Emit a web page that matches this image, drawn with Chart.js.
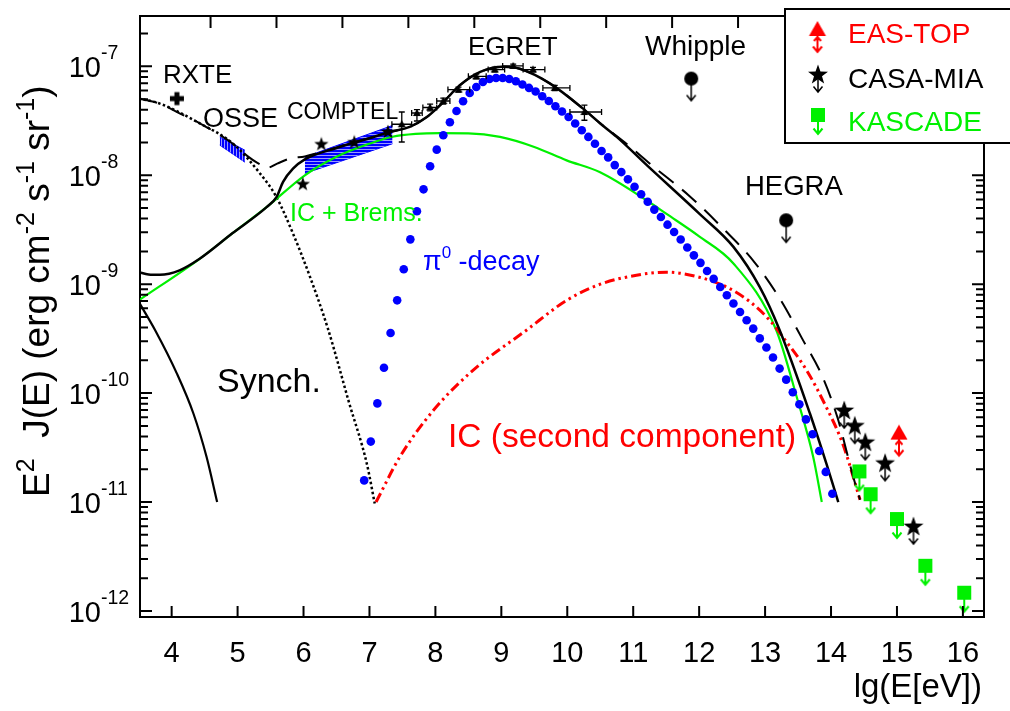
<!DOCTYPE html>
<html>
<head>
    <title>Diffuse gamma-ray spectrum</title>
    <script src="https://cdn.jsdelivr.net/npm/chart.js"></script>
    <style>
        body { margin: 0; background: #fff; }
    </style>
</head>
<body>
    <canvas id="spec" width="1010" height="711"></canvas>
    <script>
        // axis ticks (lg E in eV)
        const xTicks = [4, 5, 6, 7, 8, 9, 10, 11, 12, 13, 14, 15, 16];
        const topTicks = [4.59, 5.59, 6.59, 7.59, 8.59, 9.59, 10.59, 11.59, 12.59, 13.59, 14.59, 15.59];
        const yDecades = [-12, -11, -10, -9, -8, -7];

        // model curves
        const totalX = [3.5, 3.65, 3.82, 4.12, 4.43, 4.92, 5.44, 5.59, 5.69, 5.84, 6.02, 6.5, 7.0, 7.31, 7.61, 7.87, 8.12, 8.37, 8.68, 9.03, 9.28, 9.74, 10.24, 10.5, 10.75, 11.23, 12.01, 12.52, 12.92, 13.22, 13.68, 13.93, 14.11];
        const totalY = [1.29e-9, 1.23e-9, 1.22e-9, 1.34e-9, 1.72e-9, 2.93e-9, 5.1e-9, 6.3e-9, 8.7e-9, 1.15e-8, 1.4e-8, 1.78e-8, 2.19e-8, 2.5e-8, 2.78e-8, 3.43e-8, 4.7e-8, 6.7e-8, 8.9e-8, 9.9e-8, 9.5e-8, 6.95e-8, 4.09e-8, 2.99e-8, 2.25e-8, 1.2e-8, 4.4e-9, 2.2e-9, 9.4e-10, 3.8e-10, 6.5e-11, 2.25e-11, 1e-11];

        const altX = [3.5, 3.82, 4.12, 4.43, 4.93, 5.15, 5.3, 5.45, 5.6, 5.8, 6.02, 6.5, 7.0, 7.31, 7.61, 7.87, 8.12, 8.37, 8.68, 9.03, 9.28, 9.74, 10.24, 10.5, 10.87, 11.3, 11.86, 12.36, 12.84, 13.24, 13.56, 13.86, 14.1, 14.33, 14.44];
        const altY = [5.08e-8, 4.55e-8, 3.7e-8, 2.99e-8, 1.95e-8, 1.5e-8, 1.3e-8, 1.17e-8, 1.28e-8, 1.43e-8, 1.49e-8, 1.8e-8, 2.2e-8, 2.5e-8, 2.78e-8, 3.43e-8, 4.7e-8, 6.7e-8, 8.9e-8, 9.9e-8, 9.5e-8, 6.95e-8, 4.09e-8, 3.0e-8, 2.01e-8, 1.21e-8, 6.4e-9, 3.26e-9, 1.59e-9, 7.1e-10, 3.18e-10, 1.46e-10, 5.9e-11, 1.76e-11, 1.05e-11];

        const synchX = [3.5, 3.82, 4.43, 4.93, 5.34, 5.59, 5.84, 6.1, 6.37, 6.69, 6.96, 7.08];
        const synchY = [5.08e-8, 4.55e-8, 2.99e-8, 1.95e-8, 1.04e-8, 6.3e-9, 2.92e-9, 1.16e-9, 3.9e-10, 8.2e-11, 2.25e-11, 9.7e-12];

        const synch2X = [3.5, 3.75, 4.08, 4.33, 4.53, 4.69];
        const synch2Y = [6.9e-10, 3.78e-10, 1.51e-10, 6.5e-11, 2.59e-11, 1e-11];

        const icBremsX = [3.5, 4.43, 4.92, 5.44, 6.02, 6.5, 7.0, 7.35, 7.7, 8.07, 8.5, 8.98, 9.5, 9.99, 10.49, 11.2, 11.5, 12.0, 12.52, 13.17, 13.48, 13.73, 13.86];
        const icBremsY = [7.1e-10, 1.72e-9, 2.93e-9, 5.1e-9, 1.0e-8, 1.48e-8, 1.95e-8, 2.26e-8, 2.4e-8, 2.44e-8, 2.43e-8, 2.25e-8, 1.82e-8, 1.37e-8, 1.07e-8, 5.9e-9, 4.44e-9, 2.75e-9, 1.55e-9, 3.78e-10, 9.2e-11, 2.59e-11, 1e-11];

        const ic2X = [7.1, 7.46, 7.97, 8.57, 9.38, 9.99, 10.5, 11.05, 11.5, 12.0, 12.42, 12.77, 13.07, 13.27, 13.63, 13.93, 14.18, 14.44];
        const ic2Y = [1e-11, 2.59e-11, 6.95e-11, 1.62e-10, 3.78e-10, 7.1e-10, 1.0e-9, 1.21e-9, 1.29e-9, 1.16e-9, 9.4e-10, 6.9e-10, 4.67e-10, 3.27e-10, 1.62e-10, 7.4e-11, 3.4e-11, 1.05e-11];

        const pionX = [6.92, 7.02, 7.12, 7.22, 7.32, 7.42, 7.52, 7.62, 7.72, 7.82,
            7.92, 8.02, 8.12, 8.22, 8.32, 8.42, 8.52, 8.62, 8.72, 8.82,
            8.92, 9.02, 9.12, 9.22, 9.32, 9.42, 9.52, 9.62, 9.72, 9.82,
            9.92, 10.02, 10.12, 10.22, 10.32, 10.42, 10.52, 10.62, 10.72, 10.82,
            10.92, 11.02, 11.12, 11.22, 11.32, 11.42, 11.52, 11.62, 11.72, 11.82,
            11.92, 12.02, 12.12, 12.22, 12.32, 12.42, 12.52, 12.62, 12.72, 12.82,
            12.92, 13.02, 13.12, 13.22, 13.32, 13.42, 13.52, 13.62, 13.72, 13.82,
            13.92, 14.02];
        const pionY = [1.58e-11, 3.59e-11, 8.05e-11, 1.71e-10, 3.56e-10, 7.11e-10, 1.37e-9, 2.58e-9, 4.67e-9, 7.43e-9,
            1.21e-8, 1.72e-8, 2.33e-8, 3.07e-8, 3.89e-8, 4.79e-8, 5.70e-8, 6.47e-8, 7.19e-8, 7.66e-8,
            7.82e-8, 7.82e-8, 7.66e-8, 7.30e-8, 6.81e-8, 6.34e-8, 5.87e-8, 5.31e-8, 4.81e-8, 4.30e-8,
            3.85e-8, 3.43e-8, 2.99e-8, 2.59e-8, 2.25e-8, 1.95e-8, 1.67e-8, 1.46e-8, 1.24e-8, 1.07e-8,
            9.18e-9, 7.84e-9, 6.70e-9, 5.71e-9, 4.84e-9, 4.14e-9, 3.52e-9, 3.01e-9, 2.57e-9, 2.17e-9,
            1.84e-9, 1.57e-9, 1.32e-9, 1.12e-9, 9.42e-10, 7.91e-10, 6.64e-10, 5.56e-10, 4.67e-10, 3.91e-10,
            3.18e-10, 2.62e-10, 2.12e-10, 1.68e-10, 1.33e-10, 1.02e-10, 7.89e-11, 5.74e-11, 4.19e-11, 2.94e-11,
            1.89e-11, 1.19e-11];

        // measurements
        const rxteX = [4.08];
        const rxteY = [5.06e-8];
        const osseX = [4.73, 5.11];
        const osseHi = [2.25e-8, 1.7e-8];
        const osseLo = [1.89e-8, 1.32e-8];
        const comptelBandX = [6.02, 7.35];
        const comptelHi = [1.47e-8, 2.87e-8];
        const comptelLo = [1.04e-8, 1.95e-8];
        const comptelX = [5.99, 6.27, 6.77, 7.28];
        const comptelY = [8.26e-9, 1.92e-8, 2.0e-8, 2.5e-8];

        const egretX = [7.49, 7.72, 7.92, 8.12, 8.35, 8.62, 8.9, 9.18, 9.48, 9.81, 10.26];
        const egretY = [2.94e-8, 3.73e-8, 4.19e-8, 4.81e-8, 6.12e-8, 8.1e-8, 9.35e-8, 1.01e-7, 9.35e-8, 6.34e-8, 3.81e-8];
        const egretXlo = [7.34, 7.64, 7.81, 8.02, 8.19, 8.5, 8.8, 9.02, 9.33, 9.63, 10.04];
        const egretXhi = [7.64, 7.80, 8.02, 8.22, 8.52, 8.77, 9.05, 9.33, 9.66, 10.04, 10.52];
        const egretYlo = [2.02e-8, 3.15e-8, 3.9e-8, 4.5e-8, 5.8e-8, 7.7e-8, 8.9e-8, 9.7e-8, 8.9e-8, 6.0e-8, 3.2e-8];
        const egretYhi = [3.81e-8, 4.01e-8, 4.5e-8, 5.1e-8, 6.45e-8, 8.5e-8, 9.8e-8, 1.05e-7, 9.8e-8, 6.7e-8, 4.4e-8];

        const whippleX = [11.88];
        const whippleY = [7.72e-8];
        const hegraX = [13.32];
        const hegraY = [3.86e-9];
        const casaX = [14.2, 14.36, 14.52, 14.82, 15.25];
        const casaY = [6.86e-11, 4.96e-11, 3.5e-11, 2.25e-11, 5.9e-12];
        const easX = [15.03];
        const easY = [4.25e-11];
        const kascadeX = [14.43, 14.6, 15.0, 15.43, 16.02];
        const kascadeY = [1.91e-11, 1.18e-11, 6.98e-12, 2.6e-12, 1.47e-12];

        const FONT = '"Liberation Sans", Arial, Helvetica, sans-serif';
        const RED = '#ff0000', GREEN = '#00f000', BLUE = '#0000ff';

        const pts = (xs, ys) => xs.map((x, i) => ({ x: x, y: ys[i] }));

        // marker pictures (drawn centred on the data point)
        function markerCanvas(w, h, paint) {
            const c = document.createElement('canvas');
            c.width = w; c.height = h;
            paint(c.getContext('2d'), w / 2, h / 2);
            return c;
        }
        function starPath(g, cx, cy, R, r) {
            g.beginPath();
            for (let i = 0; i < 10; i++) {
                const a = -Math.PI / 2 + i * Math.PI / 5;
                const rr = i % 2 ? r : R;
                g.lineTo(cx + rr * Math.cos(a), cy + rr * Math.sin(a));
            }
            g.closePath();
        }
        function arrowDown(g, cx, y0, y1, color, lw) {
            g.strokeStyle = color; g.lineWidth = lw;
            g.beginPath();
            g.moveTo(cx, y0); g.lineTo(cx, y1);
            g.moveTo(cx - 4.5, y1 - 5.5); g.lineTo(cx, y1); g.lineTo(cx + 4.5, y1 - 5.5);
            g.stroke();
        }

        const smallStar = markerCanvas(16, 16, (g, cx, cy) => {
            starPath(g, cx, cy, 7.5, 3); g.fillStyle = '#000'; g.fill();
        });
        const casaMark = markerCanvas(24, 40, (g, cx, cy) => {
            arrowDown(g, cx, cy, cy + 17, '#000', 1.5);
            starPath(g, cx, cy, 10.5, 4.2); g.fillStyle = '#000'; g.fill();
        });
        const kascadeMark = markerCanvas(18, 44, (g, cx, cy) => {
            arrowDown(g, cx, cy, cy + 19, GREEN, 2);
            g.fillStyle = GREEN; g.fillRect(cx - 7, cy - 7, 14, 14);
        });
        const easMark = markerCanvas(22, 50, (g, cx, cy) => {
            g.strokeStyle = RED; g.lineWidth = 2;
            g.beginPath();
            g.moveTo(cx, cy + 6); g.lineTo(cx, cy + 22);
            g.moveTo(cx - 4.5, cy + 16.5); g.lineTo(cx, cy + 22); g.lineTo(cx + 4.5, cy + 16.5);
            g.moveTo(cx - 3.5, cy + 11); g.lineTo(cx, cy + 7); g.lineTo(cx + 3.5, cy + 11);
            g.stroke();
            g.fillStyle = RED;
            g.beginPath(); g.moveTo(cx, cy - 9); g.lineTo(cx + 8.5, cy + 6); g.lineTo(cx - 8.5, cy + 6); g.closePath(); g.fill();
        });
        const circleMark = markerCanvas(18, 50, (g, cx, cy) => {
            arrowDown(g, cx, cy, cy + 22, '#000', 1.5);
            g.fillStyle = '#000'; g.beginPath(); g.arc(cx, cy, 7, 0, 2 * Math.PI); g.fill();
        });
        const plusMark = markerCanvas(16, 16, (g, cx, cy) => {
            g.fillStyle = '#000';
            g.fillRect(cx - 7, cy - 2.5, 14, 5);
            g.fillRect(cx - 2.5, cy - 6.5, 5, 13);
        });
        const triMark = markerCanvas(10, 10, (g, cx, cy) => {
            g.fillStyle = '#000';
            g.beginPath(); g.moveTo(cx, cy - 4); g.lineTo(cx + 4, cy + 3); g.lineTo(cx - 4, cy + 3); g.closePath(); g.fill();
        });

        const mainCtx = document.getElementById('spec').getContext('2d');
        function hatch(vertical) {
            const c = document.createElement('canvas');
            c.width = 3; c.height = 3;
            const g = c.getContext('2d');
            g.fillStyle = '#9a9aff'; g.fillRect(0, 0, 3, 3);
            g.fillStyle = BLUE;
            if (vertical) g.fillRect(0, 0, 2, 3); else g.fillRect(0, 0, 3, 2);
            return mainCtx.createPattern(c, 'repeat');
        }

        function curve(label, xs, ys, color, width, dash) {
            return {
                label: label, data: pts(xs, ys), borderColor: color, borderWidth: width,
                borderDash: dash || [], pointRadius: 0, fill: false,
                cubicInterpolationMode: 'monotone', showLine: true
            };
        }
        function marks(label, xs, ys, style) {
            return { label: label, data: pts(xs, ys), showLine: false, pointStyle: style, pointRadius: 6 };
        }

        // first dataset ends up on top
        const datasets = [
            marks('EAS-TOP', easX, easY, easMark),
            marks('CASA-MIA', casaX, casaY, casaMark),
            marks('KASCADE', kascadeX, kascadeY, kascadeMark),
            marks('Whipple', whippleX, whippleY, circleMark),
            marks('HEGRA', hegraX, hegraY, circleMark),
            marks('EGRET', egretX, egretY, triMark),
            marks('COMPTEL', comptelX, comptelY, smallStar),
            marks('RXTE', rxteX, rxteY, plusMark),
            { label: 'pi0', data: pts(pionX, pionY), showLine: false, pointStyle: 'circle',
              pointRadius: 4.3, pointBackgroundColor: BLUE, pointBorderWidth: 0 },
            curve('total', totalX, totalY, '#000', 2.5),
            curve('total alt', altX, altY, '#000', 2, [19, 11]),
            curve('IC second', ic2X, ic2Y, RED, 3, [10, 4, 2.5, 4, 2.5, 4]),
            curve('IC + Brems', icBremsX, icBremsY, GREEN, 2.2),
            curve('synch', synchX, synchY, '#000', 2.5, [2.5, 2.5]),
            curve('synch 2', synch2X, synch2Y, '#000', 2.2),
            { label: 'COMPTEL band', data: pts(comptelBandX, comptelHi), borderColor: BLUE, borderWidth: 1,
              pointRadius: 0, fill: '+1', backgroundColor: hatch(false) },
            { label: 'COMPTEL band lo', data: pts(comptelBandX, comptelLo), borderColor: BLUE, borderWidth: 1,
              pointRadius: 0, fill: false },
            { label: 'OSSE band', data: pts(osseX, osseHi), borderColor: BLUE, borderWidth: 1,
              pointRadius: 0, fill: '+1', backgroundColor: hatch(true) },
            { label: 'OSSE band lo', data: pts(osseX, osseLo), borderColor: BLUE, borderWidth: 1,
              pointRadius: 0, fill: false }
        ];

        function rich(ctx, x, y, parts) {
            let cx = x;
            for (const [t, size, raise, color] of parts) {
                ctx.font = size + 'px ' + FONT;
                if (color) ctx.fillStyle = color;
                ctx.fillText(t, cx, y - raise);
                cx += ctx.measureText(t).width;
            }
            return cx;
        }

        const decor = {
            id: 'decor',
            afterDatasetsDraw(chart) {
                const { ctx, scales } = chart;
                const sx = scales.x, sy = scales.y;
                ctx.save();
                ctx.strokeStyle = '#000';
                ctx.lineWidth = 1.3;
                ctx.beginPath();
                egretX.forEach((x, i) => {
                    const px = sx.getPixelForValue(x), py = sy.getPixelForValue(egretY[i]);
                    const x0 = sx.getPixelForValue(egretXlo[i]), x1 = sx.getPixelForValue(egretXhi[i]);
                    const y0 = sy.getPixelForValue(egretYlo[i]), y1 = sy.getPixelForValue(egretYhi[i]);
                    ctx.moveTo(x0, py); ctx.lineTo(x1, py);
                    ctx.moveTo(x0, py - 3); ctx.lineTo(x0, py + 3);
                    ctx.moveTo(x1, py - 3); ctx.lineTo(x1, py + 3);
                    ctx.moveTo(px, y0); ctx.lineTo(px, y1);
                    ctx.moveTo(px - 3, y0); ctx.lineTo(px + 3, y0);
                    ctx.moveTo(px - 3, y1); ctx.lineTo(px + 3, y1);
                });
                ctx.stroke();
                ctx.restore();
            },
            afterDraw(chart) {
                const { ctx, chartArea: a, scales } = chart;
                const sx = scales.x, sy = scales.y;
                ctx.save();

                // inward ticks on all four sides
                ctx.strokeStyle = '#000';
                ctx.lineWidth = 2;
                ctx.beginPath();
                xTicks.forEach(v => {
                    const p = sx.getPixelForValue(v);
                    ctx.moveTo(p, a.bottom); ctx.lineTo(p, a.bottom - 11);
                });
                topTicks.forEach(v => {
                    const p = sx.getPixelForValue(v);
                    ctx.moveTo(p, a.top); ctx.lineTo(p, a.top + 12);
                });
                yDecades.forEach(e => {
                    for (let m = 1; m <= 9; m++) {
                        const v = m * Math.pow(10, e);
                        if (v > sy.max) continue;
                        const p = sy.getPixelForValue(v);
                        const len = m === 1 ? 12 : 8;
                        ctx.moveTo(a.left, p); ctx.lineTo(a.left + len, p);
                        ctx.moveTo(a.right, p); ctx.lineTo(a.right - len, p);
                    }
                });
                ctx.stroke();

                // tick labels
                ctx.fillStyle = '#000';
                ctx.textBaseline = 'alphabetic';
                ctx.font = '29px ' + FONT;
                ctx.textAlign = 'center';
                xTicks.forEach(v => ctx.fillText(String(v), sx.getPixelForValue(v), 662));
                yDecades.forEach(e => {
                    const p = sy.getPixelForValue(Math.pow(10, e));
                    ctx.font = '29px ' + FONT;
                    ctx.textAlign = 'right';
                    ctx.fillText('10', 101, p + 11);
                    ctx.textAlign = 'left';
                    ctx.font = '19.5px ' + FONT;
                    ctx.fillText(String(e), 101, p - 7);
                });

                // axis titles
                ctx.textAlign = 'right';
                ctx.font = '33px ' + FONT;
                ctx.fillText('lg(E[eV])', 982, 697);
                ctx.textAlign = 'left';
                ctx.save();
                ctx.translate(49, 497);
                ctx.rotate(-Math.PI / 2);
                rich(ctx, 0, 0, [['E', 37, 0], ['2', 25, 15], ['  J(E) (erg cm', 37, 0], ['-2', 25, 15],
                    [' s', 37, 0], ['-1', 25, 15], [' sr', 37, 0], ['-1', 25, 15], [')', 37, 0]]);
                ctx.restore();

                // annotations
                rich(ctx, 163, 83, [['RXTE', 26, 0, '#000']]);
                rich(ctx, 203, 127, [['OSSE', 27, 0, '#000']]);
                rich(ctx, 287, 119, [['COMPTEL', 23, 0, '#000']]);
                rich(ctx, 468, 55, [['EGRET', 26, 0, '#000']]);
                rich(ctx, 645, 55, [['Whipple', 28, 0, '#000']]);
                rich(ctx, 745, 195, [['HEGRA', 27.5, 0, '#000']]);
                rich(ctx, 217, 392, [['Synch.', 34, 0, '#000']]);
                rich(ctx, 290, 221, [['IC + Brems.', 25, 0, GREEN]]);
                rich(ctx, 423, 270, [['\u03c0', 27, 0, BLUE], ['0', 17, 12, BLUE], [' -decay', 27, 0, BLUE]]);
                rich(ctx, 448, 447, [['IC (second component)', 33.5, 0, RED]]);

                // legend box
                ctx.fillStyle = '#fff';
                ctx.fillRect(785, 9, 240, 134);
                ctx.strokeStyle = '#000';
                ctx.lineWidth = 2;
                ctx.strokeRect(785, 9, 240, 134);
                const drawMark = (c, x, y) => ctx.drawImage(c, x - c.width / 2, y - c.height / 2);
                drawMark(easMark, 817.5, 30);
                drawMark(casaMark, 818, 75);
                drawMark(kascadeMark, 818, 115);
                rich(ctx, 848, 43, [['EAS-TOP', 28, 0, RED]]);
                rich(ctx, 848, 88, [['CASA-MIA', 28, 0, '#000']]);
                rich(ctx, 848, 131, [['KASCADE', 28, 0, GREEN]]);

                ctx.restore();
            }
        };

        const axisStyle = {
            ticks: { display: false },
            grid: { display: false },
            border: { display: true, color: '#000', width: 2 }
        };

        new Chart(mainCtx, {
            type: 'line',
            data: { datasets: datasets },
            options: {
                responsive: false,
                devicePixelRatio: 1,
                animation: false,
                events: [],
                layout: { padding: 0 },
                plugins: { legend: { display: false }, tooltip: { enabled: false } },
                scales: {
                    x: Object.assign({ type: 'linear', position: 'bottom', min: 3.52, max: 16.32,
                        afterFit: s => { s.height = 94; } }, axisStyle),
                    x2: Object.assign({ type: 'linear', position: 'top', min: 3.52, max: 16.32,
                        afterFit: s => { s.height = 16; } }, axisStyle),
                    y: Object.assign({ type: 'logarithmic', position: 'left', min: 8.8e-13, max: 2.9e-7,
                        afterFit: s => { s.width = 140; } }, axisStyle),
                    y2: Object.assign({ type: 'logarithmic', position: 'right', min: 8.8e-13, max: 2.9e-7,
                        afterFit: s => { s.width = 26; } }, axisStyle)
                }
            },
            plugins: [decor]
        });
    </script>
</body>
</html>
